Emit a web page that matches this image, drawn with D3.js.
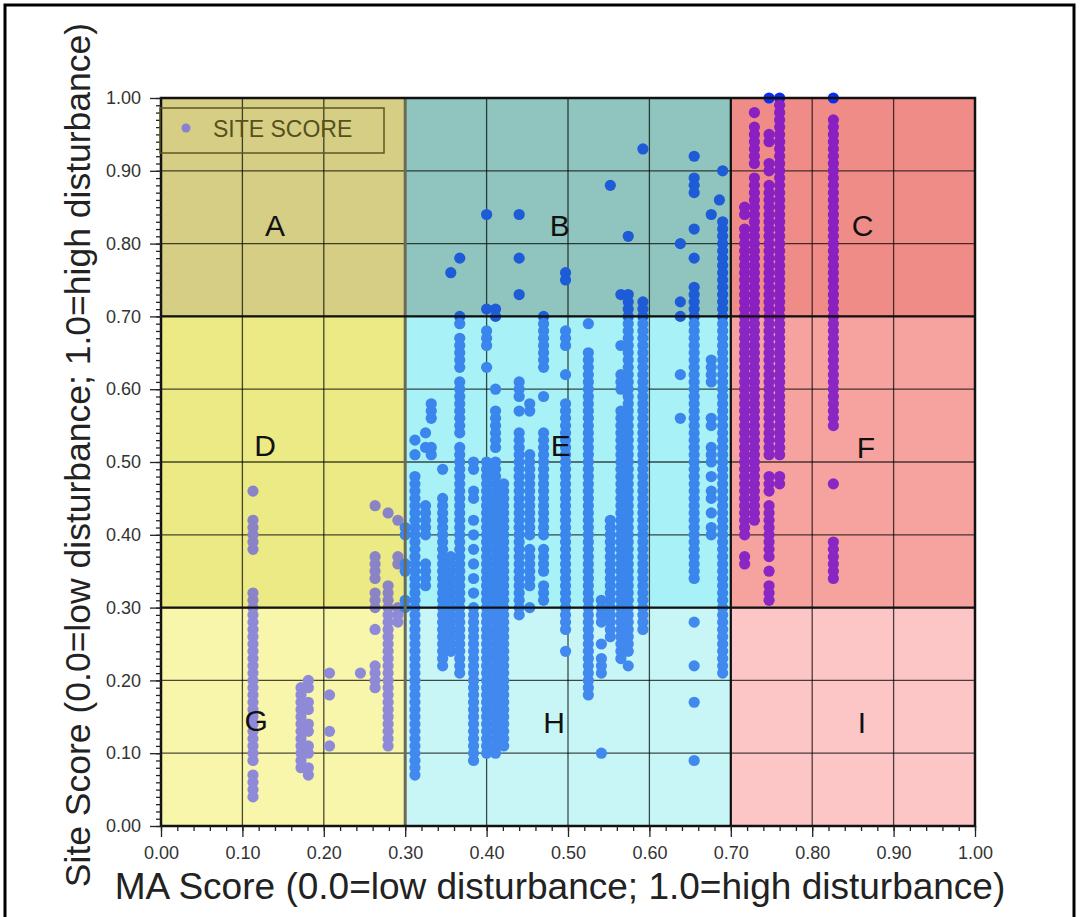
<!DOCTYPE html>
<html>
<head>
<meta charset="utf-8">
<script src="https://cdn.jsdelivr.net/npm/d3@7/dist/d3.min.js"></script>
<style>
  body { margin: 0; background: #fff; }
  svg { display: block; font-family: "Liberation Sans", Arial, sans-serif; }
</style>
</head>
<body>
<div id="chart"></div>
<script>
// MA score of each vertical column of sites
var columnMA = [0.113, 0.172, 0.181, 0.207, 0.245, 0.263, 0.279, 0.291, 0.300,
  0.312, 0.325, 0.332, 0.346, 0.356, 0.367, 0.384, 0.400, 0.411, 0.421, 0.440, 0.453, 0.470,
  0.497, 0.525, 0.541, 0.552, 0.565, 0.574, 0.592, 0.638, 0.655, 0.676, 0.686, 0.690,
  0.717, 0.729, 0.747, 0.760, 0.826];

// site scores found in each column (same order as columnMA)
var columnSite = [
  [0.46,0.42,0.41,0.40,0.39,0.38,0.32,0.31,0.30,0.29,0.28,0.27,0.26,0.25,0.24,0.23,0.22,0.21,0.20,0.19,0.18,0.17,0.16,0.15,0.14,0.13,0.12,0.11,0.10,0.09,0.07,0.06,0.05,0.04],
  [0.19,0.18,0.17,0.16,0.15,0.14,0.13,0.12,0.11,0.10,0.09,0.08],
  [0.20,0.19,0.17,0.16,0.14,0.13,0.11,0.10,0.08,0.07],
  [0.21,0.18,0.13,0.11],
  [0.21],
  [0.44,0.37,0.36,0.35,0.34,0.32,0.31,0.30,0.27,0.22,0.21,0.20,0.19],
  [0.43,0.33,0.32,0.31,0.30,0.29,0.28,0.27,0.26,0.25,0.24,0.23,0.22,0.21,0.20,0.19,0.18,0.17,0.16,0.15,0.14,0.13,0.12,0.11],
  [0.42,0.37,0.36,0.30,0.29,0.28],
  [0.41,0.40,0.36,0.35,0.31,0.30],
  [0.53,0.51,0.48,0.47,0.46,0.45,0.44,0.43,0.42,0.41,0.40,0.39,0.38,0.37,0.36,0.35,0.34,0.33,0.32,0.31,0.30,0.29,0.28,0.27,0.26,0.25,0.24,0.23,0.22,0.21,0.20,0.19,0.18,0.17,0.16,0.15,0.14,0.13,0.12,0.11,0.10,0.09,0.08,0.07],
  [0.54,0.52,0.44,0.43,0.42,0.41,0.40,0.36,0.35,0.34,0.33],
  [0.58,0.57,0.56,0.52,0.51],
  [0.49,0.45,0.44,0.43,0.42,0.41,0.40,0.39,0.38,0.37,0.36,0.35,0.34,0.33,0.32,0.31,0.30,0.29,0.28,0.27,0.26,0.25,0.24,0.23,0.22],
  [0.76,0.37,0.36,0.35,0.34,0.33,0.32,0.31,0.30,0.29,0.28,0.27,0.26,0.25,0.24],
  [0.78,0.70,0.69,0.67,0.66,0.65,0.64,0.63,0.61,0.60,0.59,0.58,0.57,0.56,0.55,0.54,0.52,0.51,0.50,0.49,0.48,0.47,0.46,0.45,0.44,0.43,0.42,0.41,0.40,0.39,0.38,0.37,0.36,0.35,0.34,0.33,0.32,0.31,0.30,0.29,0.28,0.27,0.26,0.25,0.24,0.23,0.22,0.21],
  [0.50,0.49,0.46,0.45,0.42,0.40,0.38,0.36,0.34,0.32,0.30,0.29,0.28,0.27,0.26,0.25,0.24,0.23,0.22,0.21,0.20,0.19,0.18,0.17,0.16,0.15,0.14,0.13,0.12,0.11,0.10,0.09],
  [0.84,0.71,0.68,0.67,0.66,0.63,0.50,0.49,0.48,0.47,0.46,0.45,0.44,0.43,0.42,0.41,0.40,0.39,0.38,0.37,0.36,0.35,0.34,0.33,0.32,0.31,0.30,0.29,0.28,0.27,0.26,0.25,0.24,0.23,0.22,0.21,0.20,0.19,0.18,0.17,0.16,0.15,0.14,0.13,0.12,0.11,0.10],
  [0.71,0.70,0.60,0.57,0.56,0.55,0.54,0.53,0.52,0.50,0.49,0.48,0.47,0.46,0.45,0.44,0.43,0.42,0.41,0.40,0.39,0.38,0.37,0.36,0.35,0.34,0.33,0.32,0.31,0.30,0.29,0.28,0.27,0.26,0.25,0.24,0.23,0.22,0.21,0.20,0.19,0.18,0.17,0.16,0.15,0.14,0.13,0.12,0.11,0.10],
  [0.47,0.46,0.45,0.44,0.43,0.42,0.41,0.40,0.39,0.38,0.37,0.36,0.35,0.34,0.33,0.32,0.31,0.30,0.29,0.28,0.27,0.26,0.25,0.24,0.23,0.22,0.21,0.20,0.19,0.18,0.17,0.16,0.15,0.14,0.13,0.12,0.11],
  [0.84,0.78,0.73,0.61,0.60,0.59,0.57,0.54,0.53,0.52,0.51,0.50,0.49,0.48,0.47,0.46,0.45,0.44,0.43,0.42,0.41,0.40,0.39,0.38,0.37,0.36,0.35,0.34,0.33,0.32,0.31,0.30,0.29],
  [0.58,0.57,0.51,0.50,0.49,0.48,0.47,0.46,0.45,0.44,0.43,0.42,0.41,0.40,0.38,0.37,0.36,0.35,0.34,0.33,0.30],
  [0.70,0.69,0.68,0.67,0.66,0.65,0.64,0.63,0.59,0.54,0.53,0.52,0.51,0.50,0.49,0.48,0.47,0.46,0.45,0.44,0.43,0.42,0.41,0.40,0.38,0.37,0.36,0.35,0.33,0.32,0.31],
  [0.76,0.75,0.68,0.67,0.66,0.62,0.58,0.57,0.56,0.55,0.54,0.53,0.52,0.51,0.50,0.49,0.48,0.47,0.46,0.45,0.44,0.43,0.42,0.41,0.40,0.39,0.38,0.37,0.36,0.35,0.34,0.33,0.32,0.31,0.30,0.29,0.28,0.27,0.24],
  [0.69,0.65,0.64,0.63,0.62,0.61,0.60,0.59,0.58,0.57,0.56,0.55,0.54,0.53,0.52,0.51,0.50,0.49,0.48,0.47,0.46,0.45,0.44,0.43,0.42,0.41,0.40,0.39,0.38,0.37,0.36,0.35,0.34,0.33,0.32,0.31,0.30,0.29,0.28,0.27,0.26,0.25,0.24,0.23,0.22,0.21,0.20,0.19,0.18],
  [0.31,0.30,0.29,0.28,0.25,0.23,0.22,0.21,0.10],
  [0.88,0.42,0.41,0.40,0.39,0.38,0.37,0.36,0.35,0.34,0.33,0.32,0.31,0.30,0.29,0.28,0.27,0.26],
  [0.73,0.66,0.62,0.61,0.60,0.57,0.56,0.55,0.54,0.53,0.52,0.51,0.50,0.49,0.48,0.47,0.46,0.45,0.44,0.43,0.42,0.41,0.40,0.39,0.38,0.37,0.36,0.35,0.34,0.33,0.32,0.31,0.30,0.29,0.28,0.27,0.26,0.25,0.24,0.23],
  [0.81,0.73,0.72,0.71,0.70,0.69,0.68,0.67,0.66,0.65,0.64,0.63,0.62,0.61,0.60,0.59,0.58,0.57,0.56,0.55,0.54,0.53,0.52,0.51,0.50,0.49,0.48,0.47,0.46,0.45,0.44,0.43,0.42,0.41,0.40,0.39,0.38,0.37,0.36,0.35,0.34,0.33,0.32,0.31,0.30,0.29,0.28,0.27,0.26,0.25,0.24,0.22],
  [0.93,0.72,0.71,0.70,0.69,0.68,0.67,0.66,0.65,0.64,0.63,0.62,0.61,0.60,0.59,0.58,0.57,0.56,0.55,0.54,0.53,0.52,0.51,0.50,0.49,0.48,0.47,0.46,0.45,0.44,0.43,0.42,0.41,0.40,0.39,0.38,0.37,0.36,0.35,0.34,0.33,0.32,0.31,0.30,0.29,0.28,0.27],
  [0.80,0.72,0.70,0.62,0.56],
  [0.92,0.89,0.88,0.87,0.82,0.78,0.74,0.73,0.72,0.71,0.70,0.69,0.68,0.67,0.66,0.65,0.64,0.63,0.62,0.61,0.60,0.59,0.58,0.57,0.56,0.55,0.54,0.53,0.52,0.51,0.50,0.49,0.48,0.47,0.46,0.45,0.44,0.43,0.42,0.41,0.40,0.39,0.38,0.37,0.36,0.35,0.34,0.28,0.22,0.17,0.09],
  [0.84,0.64,0.63,0.62,0.61,0.56,0.55,0.52,0.51,0.50,0.48,0.46,0.45,0.43,0.41,0.40],
  [0.86],
  [0.90,0.83,0.82,0.81,0.80,0.79,0.78,0.77,0.76,0.75,0.74,0.73,0.72,0.71,0.70,0.69,0.68,0.67,0.66,0.65,0.64,0.63,0.62,0.61,0.60,0.59,0.58,0.57,0.56,0.55,0.54,0.53,0.52,0.51,0.50,0.49,0.48,0.47,0.46,0.45,0.44,0.43,0.42,0.41,0.40,0.39,0.38,0.37,0.36,0.35,0.34,0.33,0.32,0.31,0.30,0.29,0.28,0.27,0.26,0.25,0.24,0.23,0.22,0.21],
  [0.85,0.84,0.82,0.81,0.80,0.79,0.78,0.77,0.76,0.75,0.74,0.73,0.72,0.71,0.70,0.69,0.68,0.67,0.66,0.65,0.64,0.63,0.62,0.61,0.60,0.59,0.58,0.57,0.56,0.55,0.54,0.53,0.52,0.51,0.50,0.49,0.48,0.47,0.46,0.45,0.44,0.43,0.42,0.41,0.40,0.37,0.36],
  [0.98,0.96,0.95,0.94,0.93,0.92,0.91,0.89,0.88,0.87,0.86,0.85,0.84,0.83,0.82,0.81,0.80,0.79,0.78,0.77,0.76,0.75,0.74,0.73,0.72,0.71,0.70,0.69,0.68,0.67,0.66,0.65,0.64,0.63,0.62,0.61,0.60,0.59,0.58,0.57,0.56,0.55,0.54,0.53,0.52,0.51,0.50,0.49,0.48,0.47,0.46,0.45,0.44,0.43,0.42],
  [1.00,0.95,0.94,0.91,0.90,0.88,0.87,0.86,0.85,0.84,0.83,0.82,0.81,0.80,0.79,0.78,0.77,0.76,0.75,0.74,0.73,0.72,0.71,0.70,0.69,0.68,0.67,0.66,0.65,0.64,0.63,0.62,0.61,0.60,0.59,0.58,0.57,0.56,0.55,0.54,0.53,0.52,0.51,0.48,0.47,0.46,0.44,0.43,0.42,0.41,0.40,0.39,0.38,0.37,0.35,0.33,0.32,0.31],
  [1.00,0.99,0.98,0.97,0.96,0.95,0.94,0.93,0.92,0.91,0.90,0.89,0.88,0.87,0.86,0.85,0.84,0.83,0.82,0.81,0.80,0.79,0.78,0.77,0.76,0.75,0.74,0.73,0.72,0.71,0.70,0.69,0.68,0.67,0.66,0.65,0.64,0.63,0.62,0.61,0.60,0.59,0.58,0.57,0.56,0.55,0.54,0.53,0.52,0.51,0.48,0.47],
  [1.00,0.97,0.96,0.95,0.94,0.93,0.92,0.91,0.90,0.89,0.88,0.87,0.86,0.85,0.84,0.83,0.82,0.81,0.80,0.79,0.78,0.77,0.76,0.75,0.74,0.73,0.72,0.71,0.70,0.69,0.68,0.67,0.66,0.65,0.64,0.63,0.62,0.61,0.60,0.59,0.58,0.57,0.56,0.55,0.47,0.39,0.38,0.37,0.36,0.35,0.34]
];

var tickValues = [0.0, 0.1, 0.2, 0.3, 0.4, 0.5, 0.6, 0.7, 0.8, 0.9, 1.0];
var tickLabels = ["0.00", "0.10", "0.20", "0.30", "0.40", "0.50", "0.60", "0.70", "0.80", "0.90", "1.00"];
var bandBreaks = [0.3, 0.7];
var regionNames = ["A", "B", "C", "D", "E", "F", "G", "H", "I"];
var legendLabel = "SITE SCORE";
var xTitle = "MA Score (0.0=low disturbance; 1.0=high disturbance)";
var yTitle = "Site Score (0.0=low disturbance; 1.0=high disturbance)";

// styles
var regionFill = ["#d5ce84", "#8fc5be", "#ef8c87",
                  "#ebea84", "#a8f1f6", "#f6a3a0",
                  "#f8f6aa", "#c8f6f6", "#fcc6c6"];
var pointFill = ["#8a84c6", "#1d5cd6", "#8a20c2",
                 "#8a84c6", "#3a86ec", "#8a26c4",
                 "#8f8ad8", "#4189ee", "#8a26c4"];
// where the region letters sit (data units)
var labelAt = [[0.14, 0.825], [0.49, 0.825], [0.862, 0.825],
               [0.128, 0.523], [0.491, 0.523], [0.866, 0.52],
               [0.117, 0.146], [0.483, 0.143], [0.861, 0.143]];

var width = 1082, height = 917;
var svg = d3.select("#chart").append("svg")
  .attr("width", width)
  .attr("height", height);

var x = d3.scaleLinear().domain([0, 1]).range([161, 975]);
var y = d3.scaleLinear().domain([0, 1]).range([826, 98]);

// outer frame
svg.append("rect")
  .attr("x", 5).attr("y", 5)
  .attr("width", 1069).attr("height", 930)
  .attr("fill", "none")
  .attr("stroke", "#000")
  .attr("stroke-width", 3);

var xBands = [[0, bandBreaks[0]], [bandBreaks[0], bandBreaks[1]], [bandBreaks[1], 1]];
var yBands = [[bandBreaks[1], 1], [bandBreaks[0], bandBreaks[1]], [0, bandBreaks[0]]];

function regionOf(mx, sy) {
  var c = mx < bandBreaks[0] ? 0 : (mx < bandBreaks[1] ? 1 : 2);
  var r = sy >= bandBreaks[1] ? 0 : (sy >= bandBreaks[0] ? 1 : 2);
  return r * 3 + c;
}

var regions = [];
yBands.forEach(function (yb, r) {
  xBands.forEach(function (xb, c) {
    regions.push({ i: r * 3 + c, x0: xb[0], x1: xb[1], y0: yb[0], y1: yb[1] });
  });
});

svg.append("g").selectAll("rect")
  .data(regions)
  .enter().append("rect")
  .attr("x", function (d) { return x(d.x0); })
  .attr("y", function (d) { return y(d.y1); })
  .attr("width", function (d) { return x(d.x1) - x(d.x0); })
  .attr("height", function (d) { return y(d.y0) - y(d.y1); })
  .attr("fill", function (d) { return regionFill[d.i]; });

// grid lines
var grid = svg.append("g").attr("stroke", "#000").attr("stroke-opacity", 0.7).attr("stroke-width", 1.3);
tickValues.forEach(function (t) {
  grid.append("line").attr("x1", x(t)).attr("x2", x(t)).attr("y1", y(0)).attr("y2", y(1));
  grid.append("line").attr("x1", x(0)).attr("x2", x(1)).attr("y1", y(t)).attr("y2", y(t));
});

// points
var points = [];
columnMA.forEach(function (mx, i) {
  columnSite[i].forEach(function (sy) { points.push({ ma: mx, site: sy }); });
});

svg.append("g").selectAll("circle")
  .data(points)
  .enter().append("circle")
  .attr("cx", function (d) { return x(d.ma); })
  .attr("cy", function (d) { return y(d.site); })
  .attr("r", 5.6)
  .attr("fill", function (d) {
    if (d.site >= 0.995) return "#0b2cf2";
    return pointFill[regionOf(d.ma, d.site)];
  });

// region borders
var borders = svg.append("g").attr("stroke", "#111").attr("stroke-width", 2.2);
bandBreaks.forEach(function (b, k) {
  borders.append("line").attr("x1", x(0)).attr("x2", x(1)).attr("y1", y(b)).attr("y2", y(b));
  borders.append("line").attr("x1", x(b)).attr("x2", x(b)).attr("y1", y(0)).attr("y2", y(1))
    .attr("stroke", k === 0 ? "#6b6b55" : "#111").attr("stroke-width", k === 0 ? 3 : 2.2);
});
svg.append("rect")
  .attr("x", x(0)).attr("y", y(1))
  .attr("width", x(1) - x(0)).attr("height", y(0) - y(1))
  .attr("fill", "none").attr("stroke", "#111").attr("stroke-width", 2.5);

// region letters
svg.append("g").selectAll("text")
  .data(regionNames)
  .enter().append("text")
  .attr("x", function (d, i) { return x(labelAt[i][0]); })
  .attr("y", function (d, i) { return y(labelAt[i][1]); })
  .attr("dy", "0.36em")
  .attr("text-anchor", "middle")
  .attr("font-size", 30)
  .attr("fill", "#111")
  .text(function (d) { return d; });

// axes
var yAxis = d3.axisLeft(y).tickValues(tickValues).tickSize(11).tickPadding(9)
  .tickFormat(function (d, i) { return tickLabels[i]; });
var yMinor = d3.axisLeft(y).tickValues(d3.range(0, 1.0001, 0.01)).tickSize(5).tickFormat("");
var xAxis = d3.axisBottom(x).tickValues(tickValues).tickSize(11).tickPadding(9)
  .tickFormat(function (d, i) { return tickLabels[i]; });
var xMinor = d3.axisBottom(x).tickValues(d3.range(0, 1.0001, 0.02)).tickSize(5).tickFormat("");

[yMinor, yAxis].forEach(function (ax) {
  var g = svg.append("g").attr("transform", "translate(" + x(0) + ",0)").call(ax);
  g.select(".domain").remove();
  g.selectAll("line").attr("stroke", "#222").attr("stroke-width", 1.3);
  g.selectAll("text").attr("font-size", 18).attr("fill", "#333")
    .attr("font-family", "Liberation Sans, Arial, sans-serif");
});
[xMinor, xAxis].forEach(function (ax) {
  var g = svg.append("g").attr("transform", "translate(0," + y(0) + ")").call(ax);
  g.select(".domain").remove();
  g.selectAll("line").attr("stroke", "#222").attr("stroke-width", 1.3);
  g.selectAll("text").attr("font-size", 18).attr("fill", "#333")
    .attr("font-family", "Liberation Sans, Arial, sans-serif");
});

// axis titles
svg.append("text")
  .attr("x", 560).attr("y", 899)
  .attr("text-anchor", "middle")
  .attr("font-size", 37)
  .attr("fill", "#222")
  .text(xTitle);

svg.append("text")
  .attr("transform", "translate(90,455) rotate(-90)")
  .attr("text-anchor", "middle")
  .attr("font-size", 35.5)
  .attr("fill", "#222")
  .text(yTitle);

// legend
var legend = svg.append("g");
legend.append("rect")
  .attr("x", 160).attr("y", 108)
  .attr("width", 224).attr("height", 45)
  .attr("fill", "none")
  .attr("stroke", "#5b5720")
  .attr("stroke-width", 1.5);
legend.append("circle")
  .attr("cx", 186).attr("cy", 128).attr("r", 4.5)
  .attr("fill", "#8a80d0");
legend.append("text")
  .attr("x", 213).attr("y", 137)
  .attr("font-size", 23)
  .attr("fill", "#55501c")
  .text(legendLabel);
</script>
</body>
</html>
